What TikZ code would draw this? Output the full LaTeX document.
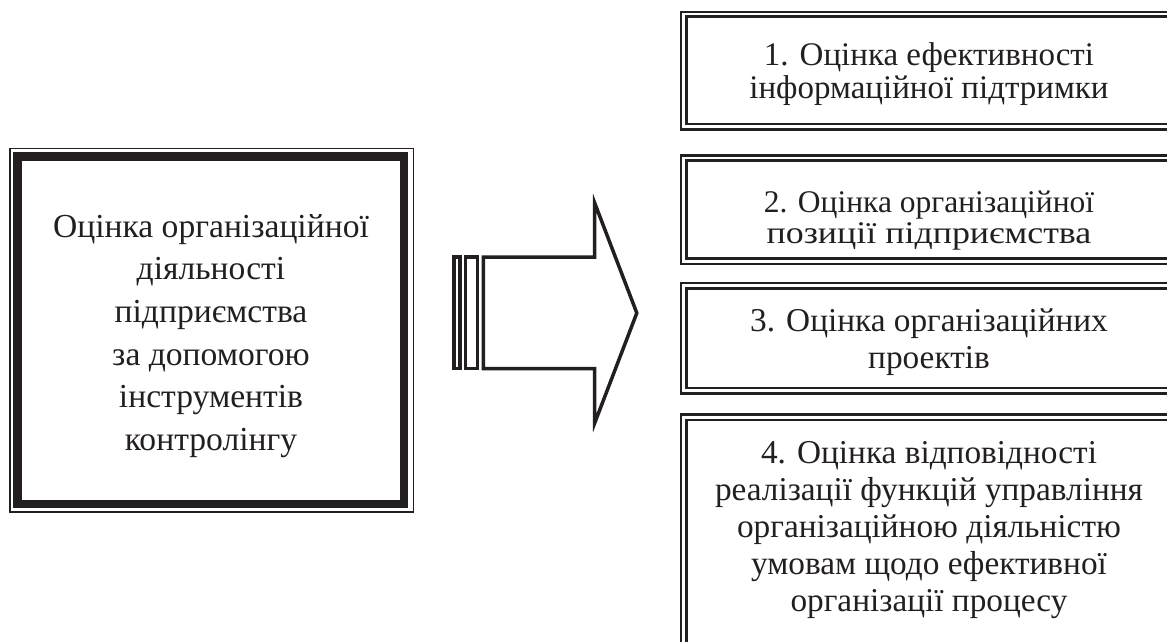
\documentclass[tikz,border=0pt]{standalone}
\usepackage{fontspec}
\setmainfont{Liberation Serif}
\definecolor{ink}{RGB}{35,31,32}
\begin{document}
\begin{tikzpicture}[x=1pt,y=-1pt,
  dbl/.style={draw=ink,line width=2.5pt},
  lbl/.style={align=center,inner sep=0pt,text=ink},
  f1/.style={font=\fontsize{33}{33}\selectfont},
  f2/.style={font=\fontsize{31.5}{31.6}\selectfont},
  bigf/.style={font=\fontsize{33.3}{37.2}\selectfont},
  mainf/.style={font=\fontsize{33.6}{42.7}\selectfont},
  arrowline/.style={draw=ink,line width=3.5pt,line join=miter}]
\useasboundingbox (0,0) rectangle (1167,641);
\clip (0,0) rectangle (1167,641);
% left box
\draw[ink,line width=1.6pt] (9.8,148.5) rectangle (413.3,512);
\draw[ink,line width=8.4pt] (17.5,156.5) rectangle (404.2,503.8);
\node[lbl,mainf] (main) at (211,336) {Оцінка організаційної\\діяльності\\підприємства\\за допомогою\\інструментів\\контролінгу};
% block arrow
\draw[arrowline] (454.2,257) rectangle (459.8,368.7);
\draw[arrowline] (465.7,257) rectangle (477.7,368.7);
\draw[arrowline] (483.3,257) -- (594.7,257) -- (594.7,203) -- (636.8,313)
  -- (594.7,423) -- (594.7,368.7) -- (483.3,368.7) -- cycle;
% right boxes
\draw[dbl] (1180,12) -| (681,129.5) -- (1180,129.5);
\draw[dbl] (1180,16.5) -| (686.5,124.2) -- (1180,124.2);
\node[lbl,f1] (b1) at (929,74) {1. Оцінка ефективності\\інформаційної підтримки};
\draw[dbl] (1180,155.3) -| (681,264.2) -- (1180,264.2);
\draw[dbl] (1180,160.7) -| (686.5,258.7) -- (1180,258.7);
\node[lbl,f2] (b2) at (929,220.6) {2. Оцінка організаційної\\\scalebox{1.14}[1]{позиції підприємства}};
\draw[dbl] (1180,283) -| (681,393.7) -- (1180,393.7);
\draw[dbl] (1180,288.3) -| (686.5,388) -- (1180,388);
\node[lbl,bigf] (b3) at (929,342.3) {3. Оцінка організаційних\\проектів};
\draw[dbl] (1180,414.7) -| (681,660);
\draw[dbl] (1180,420) -| (686.5,660);
\node[lbl,bigf] (b4) at (929,530) {4. Оцінка відповідності\\реалізації функцій управління\\організаційною діяльністю\\умовам щодо ефективної\\організації процесу};
\end{tikzpicture}
\end{document}
